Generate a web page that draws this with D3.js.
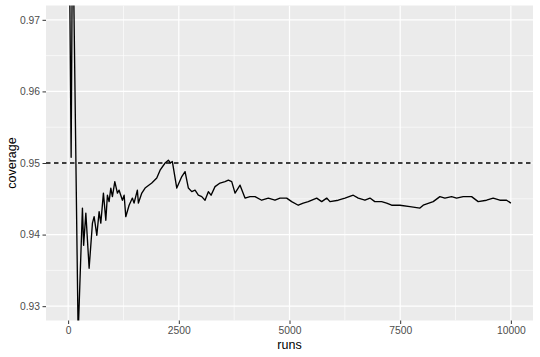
<!DOCTYPE html>
<html>
<head>
<meta charset="utf-8">
<script src="https://cdn.jsdelivr.net/npm/d3@7"></script>
<style>
  body { margin: 0; background: #fff; }
  svg { display: block; font-family: "Liberation Sans", Arial, sans-serif; }
</style>
</head>
<body>
<svg></svg>
<script>
// cumulative coverage
var runs = [15, 68, 100, 124, 226, 323, 350, 400, 474, 549, 587, 648, 700, 738, 797, 851, 887, 925, 964, 1000,
            1054, 1113, 1151, 1226, 1265, 1302, 1377, 1451, 1489, 1564, 1587, 1664, 1738, 1889, 2002, 2077, 2190, 2264, 2309, 2354,
            2454, 2567, 2641, 2716, 2792, 2867, 2941, 3018, 3092, 3167, 3228, 3318, 3431, 3544, 3619, 3695, 3770, 3883, 3995, 4108,
            4221, 4372, 4521, 4672, 4785, 4936, 5049, 5198, 5311, 5424, 5614, 5727, 5840, 5914, 6101, 6253, 6440, 6553, 6704, 6817,
            6927, 7081, 7194, 7307, 7494, 7720, 7946, 8020, 8246, 8397, 8510, 8661, 8774, 8923, 9113, 9262, 9451, 9600, 9751, 9903,
            10000];
var coverage = [0.99, 0.9508, 0.985, 0.975, 0.926, 0.9437, 0.9385, 0.9430, 0.9353, 0.9416, 0.9425, 0.9399, 0.9432, 0.9416, 0.9458, 0.9420, 0.9455, 0.9446, 0.9465, 0.9453,
                0.9474, 0.9458, 0.9462, 0.9448, 0.9455, 0.9425, 0.9441, 0.9451, 0.9444, 0.9462, 0.9444, 0.9458, 0.9465, 0.9472, 0.9479, 0.9490, 0.9500, 0.9504, 0.9500, 0.9502,
                0.9465, 0.9481, 0.9488, 0.9465, 0.9460, 0.9462, 0.9455, 0.9453, 0.9448, 0.9460, 0.9455, 0.9467, 0.9472, 0.9474, 0.9476, 0.9474, 0.9458, 0.9469, 0.9451, 0.9453,
                0.9453, 0.9448, 0.9451, 0.9448, 0.9451, 0.9451, 0.9446, 0.9441, 0.9444, 0.9446, 0.9451, 0.9446, 0.9451, 0.9446, 0.9448, 0.9451, 0.9455, 0.9451, 0.9448, 0.9451,
                0.9446, 0.9446, 0.9444, 0.9441, 0.9441, 0.9439, 0.9437, 0.9441, 0.9446, 0.9453, 0.9451, 0.9453, 0.9451, 0.9453, 0.9453, 0.9446, 0.9448, 0.9451, 0.9448, 0.9448,
                0.9444];
var target = 0.95;
var xTicks = [0, 2500, 5000, 7500, 10000];
var xMinor = [1250, 3750, 6250, 8750];
var yTicks = [0.93, 0.94, 0.95, 0.96, 0.97];
var yMinor = [0.935, 0.945, 0.955, 0.965];

var data = runs.map((r, i) => ({run: r, cov: coverage[i]}));

var width = 540;
var height = 357;
var padLeft = 46, padRight = 533, padTop = 5.5, padBottom = 320.5;

var svg = d3.select('svg')
    .attr('width', width)
    .attr('height', height);

var Xscale = d3.scaleLinear().domain([-500, 10500]).range([padLeft, padRight]);
var Yscale = d3.scaleLinear().domain([0.928, 0.972]).range([padBottom, padTop]);

// panel
svg.append('rect')
    .attr('x', padLeft).attr('y', padTop)
    .attr('width', padRight - padLeft).attr('height', padBottom - padTop)
    .attr('fill', '#ebebeb');

svg.append('clipPath').attr('id', 'panel')
  .append('rect')
    .attr('x', padLeft).attr('y', padTop)
    .attr('width', padRight - padLeft).attr('height', padBottom - padTop);

// grid
var grid = svg.append('g').attr('clip-path', 'url(#panel)');
grid.selectAll('.xminor').data(xMinor).enter().append('line')
    .attr('x1', d => Xscale(d)).attr('x2', d => Xscale(d))
    .attr('y1', padTop).attr('y2', padBottom)
    .attr('stroke', '#fff').attr('stroke-width', 0.6);
grid.selectAll('.yminor').data(yMinor).enter().append('line')
    .attr('y1', d => Yscale(d)).attr('y2', d => Yscale(d))
    .attr('x1', padLeft).attr('x2', padRight)
    .attr('stroke', '#fff').attr('stroke-width', 0.6);
grid.selectAll('.xmajor').data(xTicks).enter().append('line')
    .attr('x1', d => Xscale(d)).attr('x2', d => Xscale(d))
    .attr('y1', padTop).attr('y2', padBottom)
    .attr('stroke', '#fff').attr('stroke-width', 1.2);
grid.selectAll('.ymajor').data(yTicks).enter().append('line')
    .attr('y1', d => Yscale(d)).attr('y2', d => Yscale(d))
    .attr('x1', padLeft).attr('x2', padRight)
    .attr('stroke', '#fff').attr('stroke-width', 1.2);

// data line + reference
var line = d3.line().x(d => Xscale(d.run)).y(d => Yscale(d.cov));
grid.append('path')
    .datum(data)
    .attr('d', line)
    .attr('fill', 'none')
    .attr('stroke', '#000')
    .attr('stroke-width', 1.35)
    .attr('stroke-linejoin', 'round');

grid.append('line')
    .attr('x1', padLeft).attr('x2', padRight)
    .attr('y1', Yscale(target)).attr('y2', Yscale(target))
    .attr('stroke', '#000')
    .attr('stroke-width', 1.3)
    .attr('stroke-dasharray', '4.5,3.5');

// axes
var Xaxis = d3.axisBottom(Xscale).tickValues(xTicks).tickSize(3.5).tickSizeOuter(0).tickPadding(2.5).tickFormat(d3.format('d'));
var Yaxis = d3.axisLeft(Yscale).tickValues(yTicks).tickSize(3.5).tickSizeOuter(0).tickPadding(2.5).tickFormat(d3.format('.2f'));

var gx = svg.append('g')
    .attr('transform', `translate(0,${padBottom})`)
    .call(Xaxis);
var gy = svg.append('g')
    .attr('transform', `translate(${padLeft},0)`)
    .call(Yaxis);
[gx, gy].forEach(g => {
    g.select('.domain').remove();
    g.selectAll('line').attr('stroke', '#333').attr('stroke-width', 1);
    g.selectAll('text').attr('fill', '#4d4d4d').style('font-size', '10.3px').style('font-family', '"Liberation Sans", Arial, sans-serif');
});

svg.append('text')
    .attr('text-anchor', 'middle')
    .attr('transform', `translate(${(padLeft + padRight) / 2},${height - 8})`)
    .style('font-size', '12.5px')
    .text('runs');

svg.append('text')
    .attr('text-anchor', 'middle')
    .attr('transform', `translate(16,${(padTop + padBottom) / 2}) rotate(-90)`)
    .style('font-size', '12.5px')
    .text('coverage');
</script>
</body>
</html>
